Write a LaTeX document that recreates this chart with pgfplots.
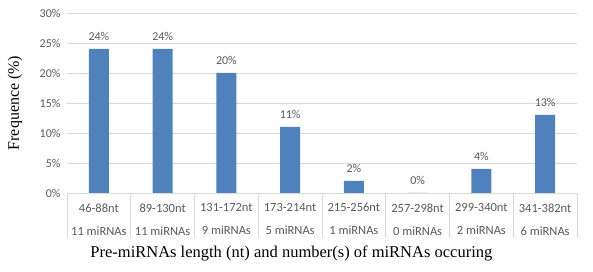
\documentclass[border=0pt]{standalone}
\usepackage{pgfplots}
\pgfplotsset{compat=1.18}
\usepackage{fontspec}
\setmainfont{Liberation Serif}
\newfontfamily\calib{Carlito}
\definecolor{barblue}{HTML}{4F81BD}
\definecolor{txtgray}{HTML}{595959}
\definecolor{gridgray}{HTML}{D9D9D9}
\begin{document}
\begin{tikzpicture}
\begin{axis}[
  scale only axis, width=510pt, height=180pt,
  xmin=-0.5, xmax=7.5, ymin=0, ymax=30,
  ytick={0,5,...,30},
  yticklabel={\pgfmathprintnumber{\tick}\%},
  /pgf/number format/assume math mode=true,
  yticklabel style={font=\calib\fontsize{12}{14}\selectfont, text=txtgray, xshift=-3pt},
  ymajorgrids, grid style={gridgray, line width=0.8pt},
  axis line style={draw=none},
  major tick length=0pt,
  xtick={0,...,7},
  xticklabels={46-88nt\\11 miRNAs, 89-130nt\\11 miRNAs, 131-172nt\\9 miRNAs, 173-214nt\\5 miRNAs, 215-256nt\\1 miRNAs, 257-298nt\\0 miRNAs, 299-340nt\\2 miRNAs, 341-382nt\\6 miRNAs},
  xticklabel style={font=\calib\fontsize{12.5}{23}\selectfont, text=txtgray, align=center, yshift=-7pt},
  extra x ticks={-0.5,0.5,...,7.5},
  extra x tick labels={},
  extra x tick style={major tick length=45pt, tick align=outside, xtick pos=bottom, tick style={draw=gridgray, line width=0.8pt}, grid=none},
  ybar, bar width=20pt,
  nodes near coords={\pgfmathprintnumber{\pgfplotspointmeta}\%},
  nodes near coords style={font=\calib\fontsize{12}{14}\selectfont, text=txtgray, yshift=5pt},
  xlabel={Pre-miRNAs length (nt) and number(s) of miRNAs occuring},
  xlabel style={font=\fontsize{16.5}{20}\selectfont, at={(axis description cs:0.44,0)}, anchor=center, yshift=-60pt},
  ylabel={Frequence (\%)},
  every axis y label/.style={at={(axis description cs:-0.102,0.5)}, rotate=90, anchor=center, font=\fontsize{16}{20}\selectfont},
  clip=false,
]
\addplot[fill=barblue, draw=none] coordinates {(0,24) (1,24) (2,20) (3,11) (4,2) (5,0) (6,4) (7,13)};
\draw[gridgray, line width=0.8pt] (axis cs:-0.5,0) -- (axis cs:7.5,0);
\end{axis}
\useasboundingbox (-67pt,-79pt) rectangle (526pt,193pt);
\end{tikzpicture}
\end{document}
